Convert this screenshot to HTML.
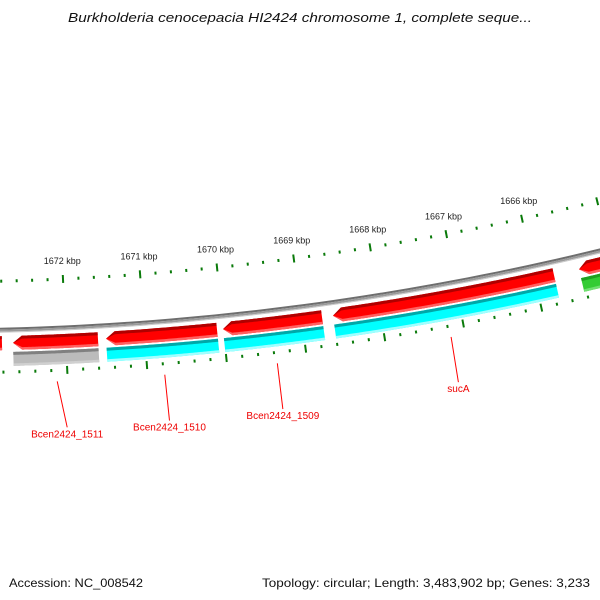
<!DOCTYPE html>
<html><head><meta charset="utf-8"><style>
html,body{margin:0;padding:0;background:#fff;}
svg{display:block;font-family:"Liberation Sans",sans-serif;}
</style></head><body>
<svg id="map" width="600" height="600" viewBox="0 0 600 600" xmlns="http://www.w3.org/2000/svg">
<rect width="600" height="600" fill="#fff"/>
<text x="300" y="22" text-anchor="middle" font-style="italic" font-size="13" fill="#111" textLength="464" lengthAdjust="spacingAndGlyphs">Burkholderia cenocepacia HI2424 chromosome 1, complete seque...</text>
<g id="plot"></g>
<text x="9" y="587" font-size="12" fill="#111" textLength="134" lengthAdjust="spacingAndGlyphs">Accession: NC_008542</text>
<text x="590" y="587" text-anchor="end" font-size="12" fill="#111" textLength="328" lengthAdjust="spacingAndGlyphs">Topology: circular; Length: 3,483,902 bp; Genes: 3,233</text>
</svg>
<script>
// ---- data ----
const reverseGeneStarts = [1673500, 1672670, 1671491, 1670005, 1668602, 1665431];
const reverseGeneEnds   = [1672810, 1671593, 1670081, 1668742, 1665756, 1663500];
const reverseGeneArrow  = [false, true, true, true, true, true];
const cogGeneStarts = [1672670, 1671491, 1670005, 1668602, 1665431];
const cogGeneEnds   = [1671593, 1670081, 1668742, 1665756, 1663500];
const cogGeneClass  = ["gray", "cyan", "cyan", "cyan", "green"];
const labelNames = ["Bcen2424_1511", "Bcen2424_1510", "Bcen2424_1509", "sucA"];
const labelGeneIndex = [0, 1, 2, 3];
const tickStartKbp = 1664;
const tickEndKbp = 1674;
const majorTickLabels = ["1672 kbp","1671 kbp","1670 kbp","1669 kbp","1668 kbp","1667 kbp","1666 kbp"];
const majorTickKbp = [1672, 1671, 1670, 1669, 1668, 1667, 1666];

// ---- geometry ----
const NS = "http://www.w3.org/2000/svg";
const R = 2812, CX = -66, CY = -2481;
const K = 2.7957e-5;
function psi(bp){ return 0.04670 - (bp - 1672000) * K; }
function pt(bp, r){ const a = psi(bp); return [CX + r*Math.sin(a), CY + r*Math.cos(a)]; }
const plot = document.getElementById('plot');
function mk(tag, attrs){ const e = document.createElementNS(NS, tag); for (const k in attrs) e.setAttribute(k, attrs[k]); plot.appendChild(e); return e; }
function arcPts(b1, b2, r){ const n = 60, out = []; for (let i=0;i<=n;i++){ out.push(pt(b1 + (b2-b1)*i/n, r)); } return out; }
function poly(points){ return points.map(p => p[0].toFixed(2)+','+p[1].toFixed(2)).join(' '); }

// backbone
[[R-1.5,'#6e6e6e',2],[R+0.5,'#9a9a9a',2],[R+2,'#c8c8c8',1]].forEach((s,i)=>{
  const e = mk('polyline', {points: poly(arcPts(1674500, 1663000, s[0])), fill:'none', stroke:s[1], 'stroke-width':s[2]});
  
  
});

// gene drawing
const palettes = {
  red:   ['#b00000', '#ff0000', '#ff6060'],
  cyan:  ['#00a8a8', '#00ffff', '#a0ffff'],
  gray:  ['#808080', '#bbbbbb', '#d0d0d0'],
  green: ['#20a020', '#33cc33', '#70e070']
};
function drawGene(start, end, r1, r2, arrow, pal, name){
  const g = document.createElementNS(NS, 'g');
  
  
  plot.appendChild(g);
  const rm = (r1 + r2)/2;
  const headBp = arrow ? 9 / (rm * K) : 0;
  const base = start - headBp;
  function shape(ra, rb){
    let p = [];
    if (arrow) p.push(pt(start, rm));
    p = p.concat(arcPts(base, end, ra));
    p = p.concat(arcPts(end, base, rb));
    return p;
  }
  const layers = [[r1, r2, pal[1]], [r1, r1+3, pal[0]], [r2-2.5, r2, pal[2]]];
  layers.forEach(L => {
    const e = document.createElementNS(NS, 'polygon');
    e.setAttribute('points', poly(shape(L[0], L[1])));
    e.setAttribute('fill', L[2]);
    g.appendChild(e);
  });
}
for (let i=0;i<reverseGeneStarts.length;i++){
  drawGene(reverseGeneStarts[i], reverseGeneEnds[i], R+6, R+20, reverseGeneArrow[i], palettes.red, 'reverse-gene-'+(i+1));
}
for (let i=0;i<cogGeneStarts.length;i++){
  drawGene(cogGeneStarts[i], cogGeneEnds[i], R+22, R+36, false, palettes[cogGeneClass[i]], 'cog-gene-'+(i+1));
}

// ticks
function drawTicks(rc, prefix){
  for (let bp = tickStartKbp*1000; bp <= tickEndKbp*1000; bp += 200){
    const major = bp % 1000 === 0;
    const half = major ? 4 : 1.5;
    const a = pt(bp, rc - half), b = pt(bp, rc + half);
    const e = mk('line', {x1:a[0], y1:a[1], x2:b[0], y2:b[1], stroke:'#0a7a0a', 'stroke-width':2});
    
    
  }
}
drawTicks(R-49, 'outer');
drawTicks(R+42, 'inner');
for (let i=0;i<majorTickKbp.length;i++){
  const p = pt(majorTickKbp[i]*1000, R-64);
  const t = mk('text', {x:p[0], y:p[1], 'text-anchor':'middle', 'font-size':9, fill:'#222'});
  t.textContent = majorTickLabels[i];
  
  
}

// gene labels
const extraShift = [8, 1, 0, -1];
for (let i=0;i<labelNames.length;i++){
  const gi = labelGeneIndex[i];
  const mid = (cogGeneStarts[gi] + cogGeneEnds[gi]) / 2;
  const a = pt(mid, R+53), b = pt(mid, R+99);
  const ex = b[0] + extraShift[i];
  const l = mk('line', {x1:a[0], y1:a[1], x2:ex, y2:b[1], stroke:'#ff0000', 'stroke-width':1});
  
  
  const t = mk('text', {x:ex, y:b[1]+10, 'text-anchor':'middle', 'font-size':10, fill:'#ee0000'});
  t.textContent = labelNames[i];
  
  
}
</script>
</body></html>
